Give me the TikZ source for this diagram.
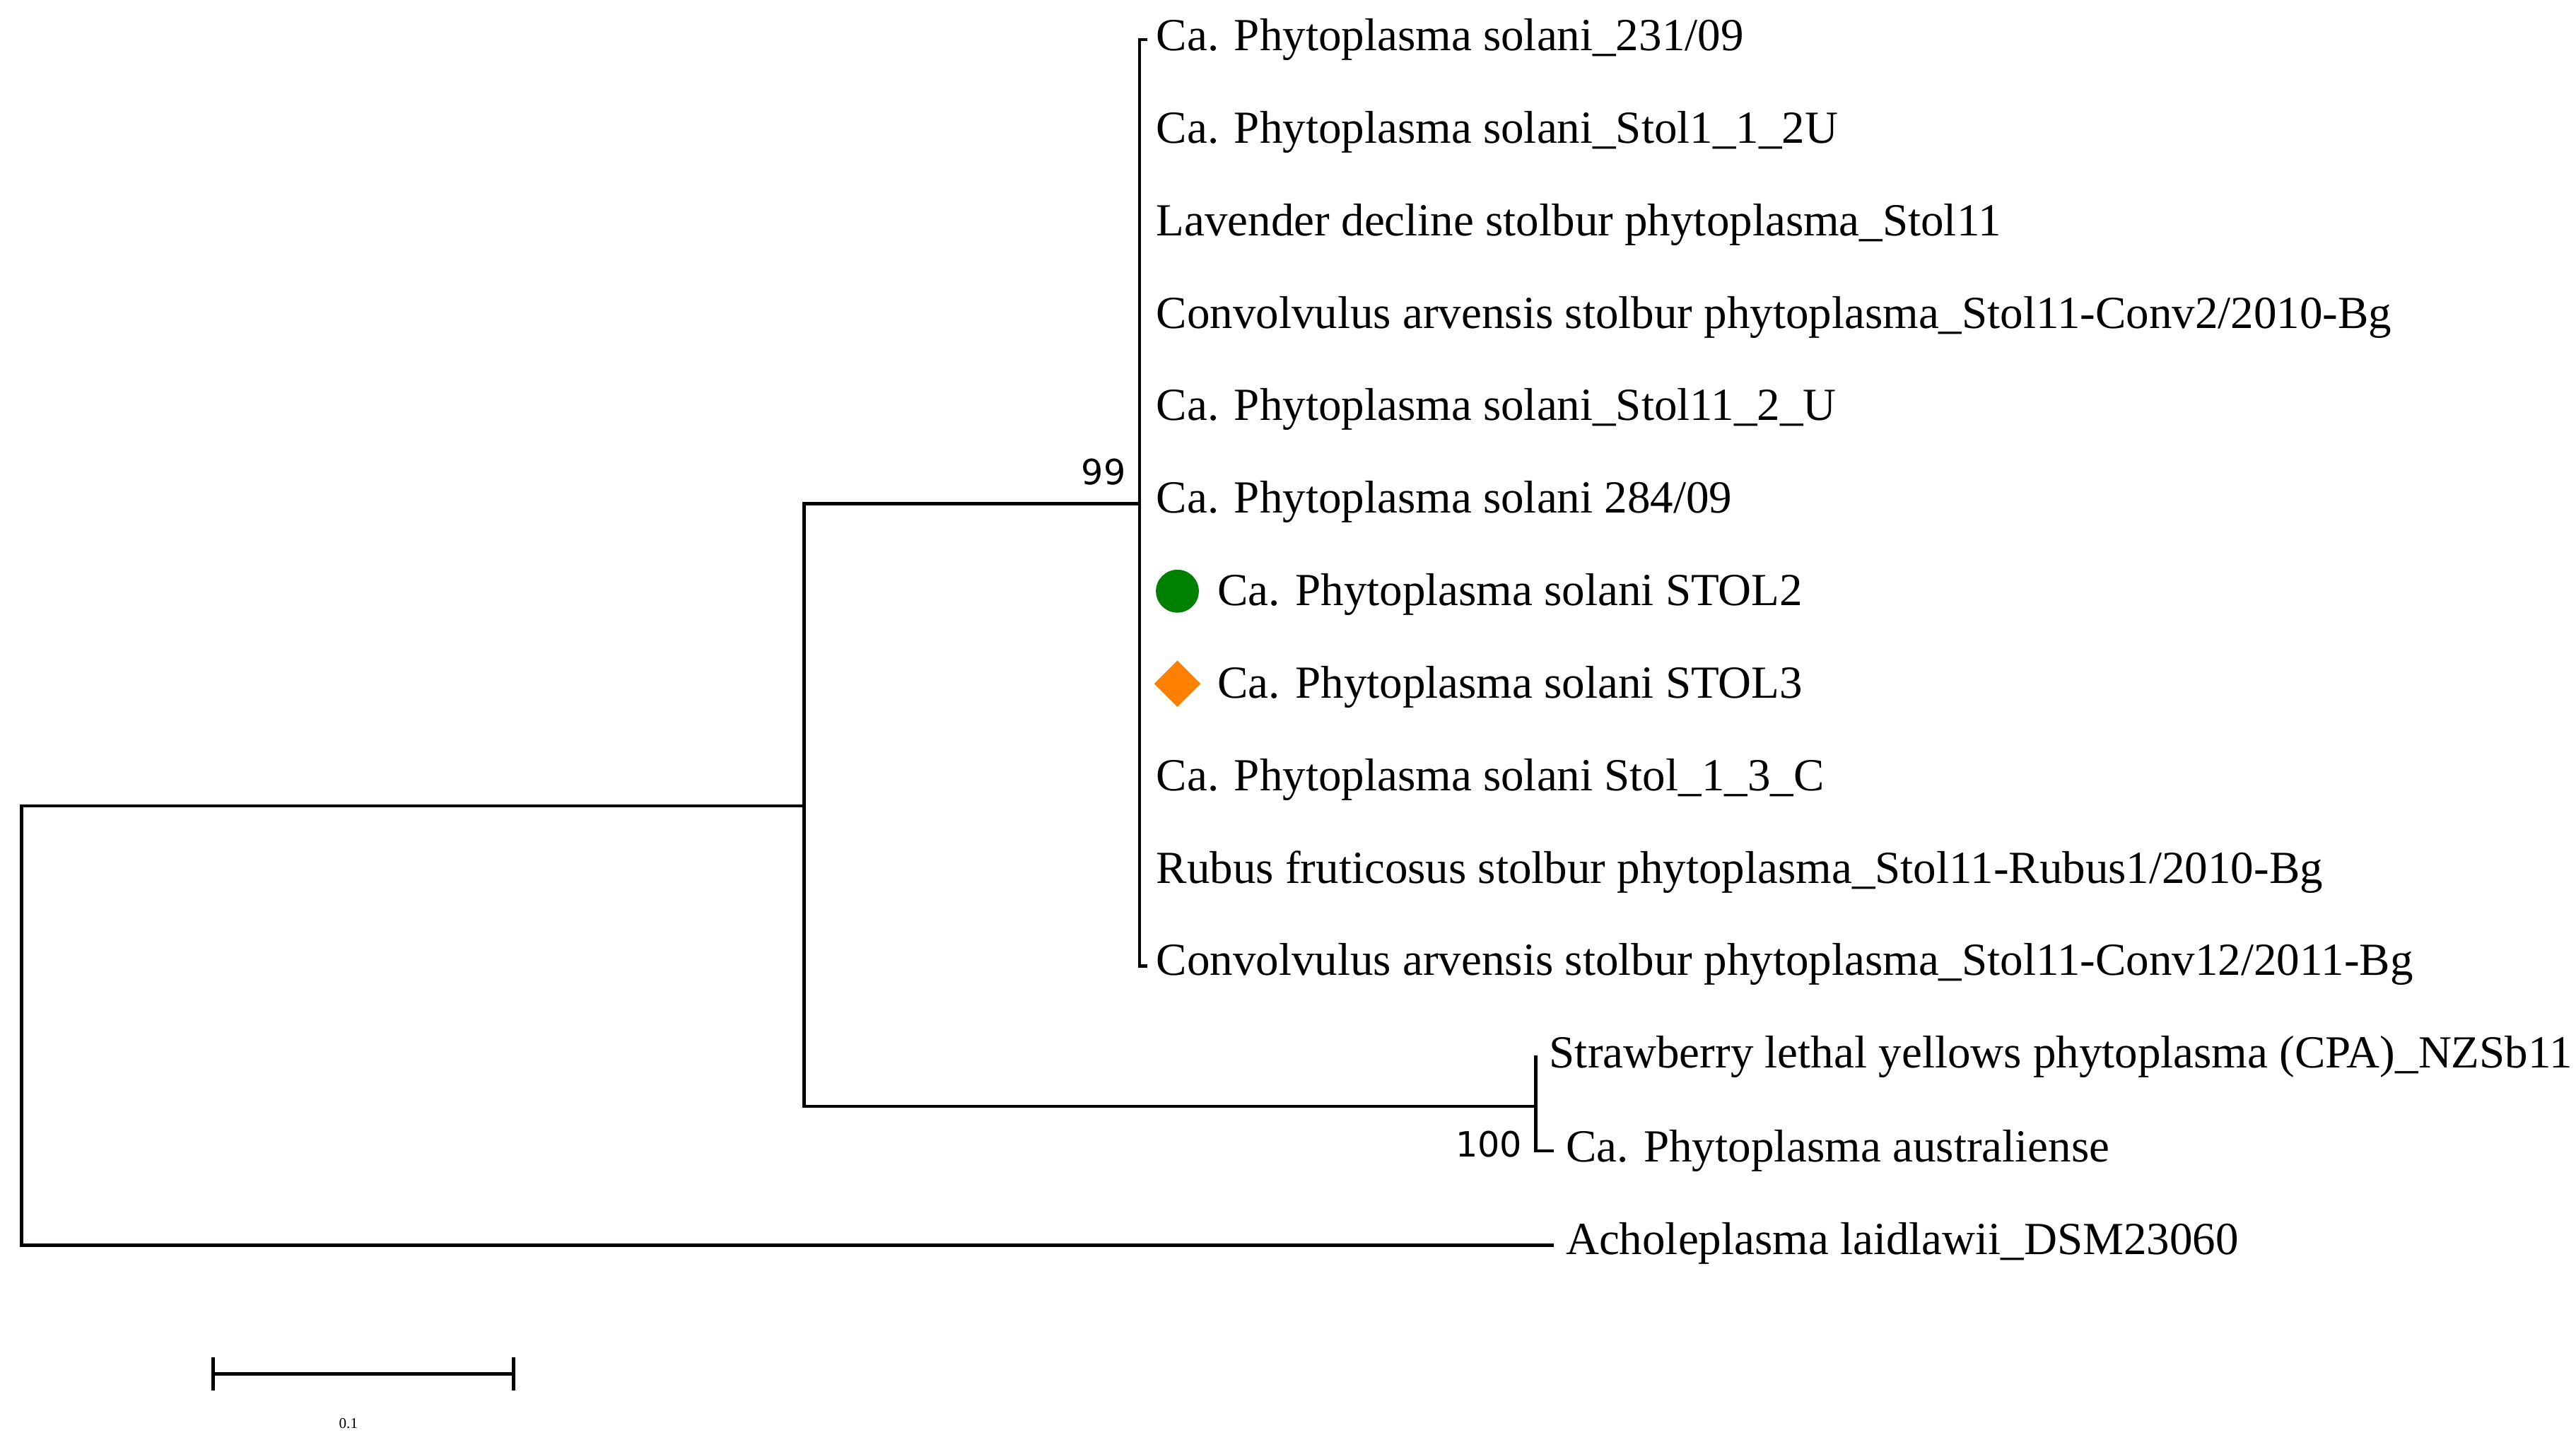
\documentclass[tikz,border=0pt]{standalone}
\usepackage{fontspec}
\setmainfont{Liberation Serif}
\newfontfamily\bootfont{DejaVu Sans}
\begin{document}
\begin{tikzpicture}[x=0.02336cm,y=-0.02336cm,
  br/.style={line width=1.3pt,line cap=rect},
  lab/.style={anchor=west,inner sep=0pt,font=\fontsize{18.5}{20}\selectfont},
  boot/.style={inner sep=0pt,font=\bootfont\fontsize{14}{16}\selectfont}]
\useasboundingbox (0,0) rectangle (1560,872);
% internal nodes
\coordinate (r) at (13,488);
\coordinate (n1) at (487,488);
\coordinate (a) at (690,305);
\coordinate (b) at (930,670);
% tree
\draw[br] (13,305) ; 
\draw[br] (13,488) -- (13,754) -- (940,754);
\draw[br] (r) -- (n1);
\draw[br] (487,305) -- (487,670) -- (b);
\draw[br] (487,305) -- (a);
\draw[br] (694,24) -- (690,24) -- (690,585) -- (694,585);
\draw[br] (930,640) -- (930,697) -- (940,697);
% labels
\foreach \t [count=\i from 0] in {%
 {Ca. Phytoplasma solani\_231/09},
 {Ca. Phytoplasma solani\_Stol1\_1\_2U},
 {Lavender decline stolbur phytoplasma\_Stol11},
 {Convolvulus arvensis stolbur phytoplasma\_Stol11-Conv2/2010-Bg},
 {Ca. Phytoplasma solani\_Stol11\_2\_U},
 {Ca. Phytoplasma solani 284/09}}{
  \node[lab] (t\i) at (700,{24+56*\i}) {\t};}
\node[lab] (t6) at (737,360) {Ca. Phytoplasma solani STOL2};
\node[lab] (t7) at (737,416) {Ca. Phytoplasma solani STOL3};
\node[lab] (t8) at (700,472) {Ca. Phytoplasma solani Stol\_1\_3\_C};
\node[lab] (t9) at (700,528) {Rubus fruticosus stolbur phytoplasma\_Stol11-Rubus1/2010-Bg};
\node[lab] (t10) at (700,584) {Convolvulus arvensis stolbur phytoplasma\_Stol11-Conv12/2011-Bg};
\node[lab] (t11) at (938,640) {Strawberry lethal yellows phytoplasma (CPA)\_NZSb11};
\node[lab] (t12) at (948,697) {Ca. Phytoplasma australiense};
\node[lab] (t13) at (948,753) {Acholeplasma laidlawii\_DSM23060};
\fill[green!50!black] (713,358) circle (13);
\fill[orange] (713,400) -- (727,414) -- (713,428) -- (699,414) -- cycle;
\node[boot,anchor=east] (b99) at (682,286) {99};
\node[boot,anchor=east] (b100) at (922,693) {100};
% scale bar
\draw[br] (129,832) -- (311,832);
\draw[br] (129,823) -- (129,841);
\draw[br] (311,823) -- (311,841);
\node[inner sep=0pt,font=\fontsize{6}{7}\selectfont] (sc) at (211,862) {0.1};
\end{tikzpicture}
\end{document}
